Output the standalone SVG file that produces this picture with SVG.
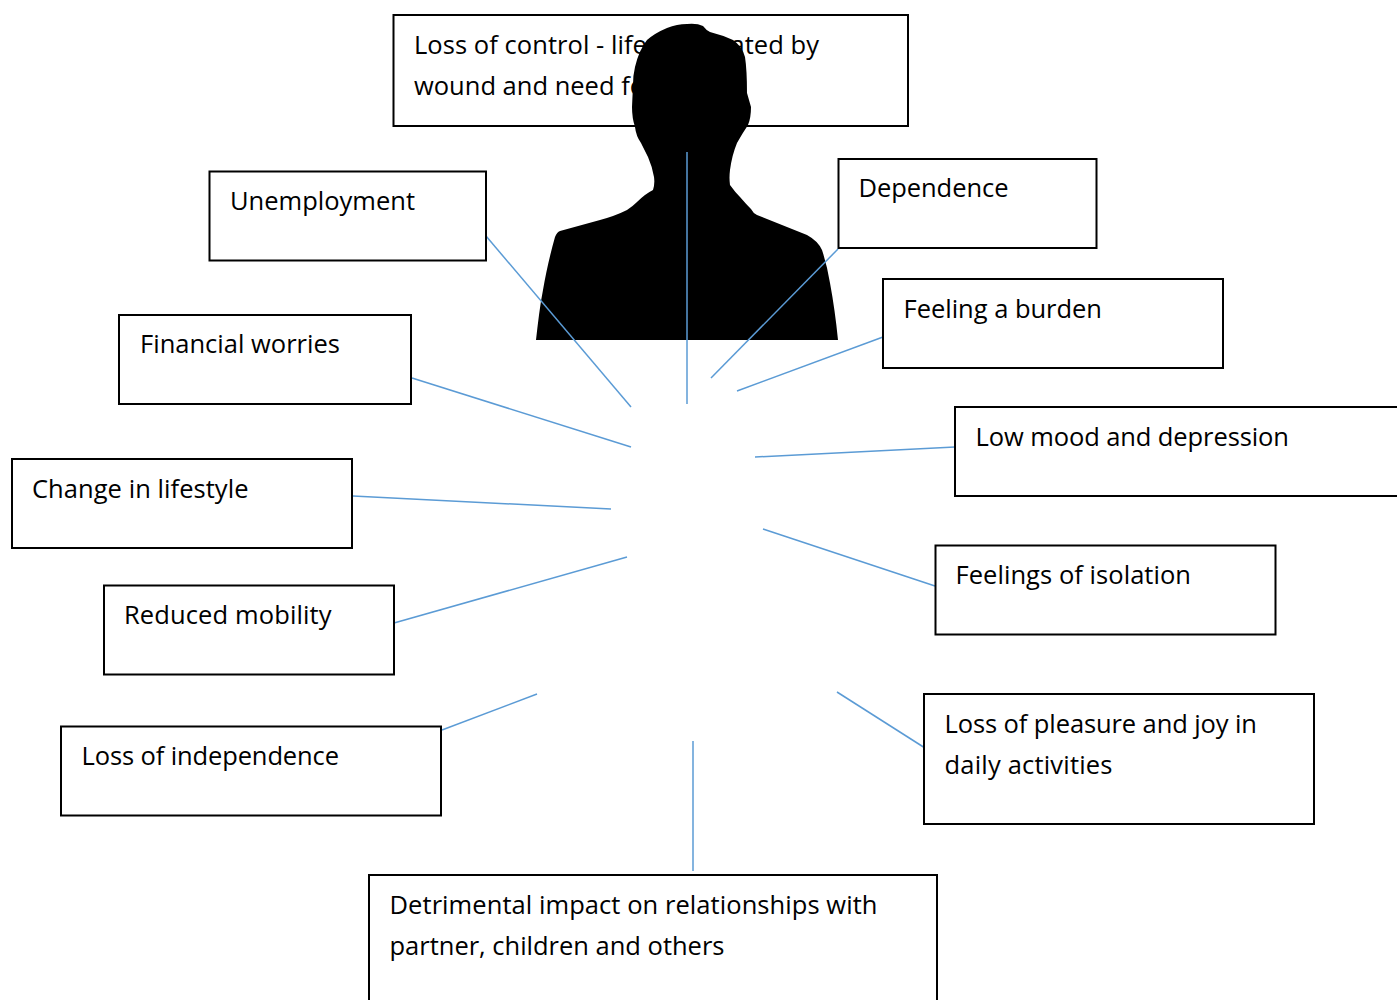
<svg xmlns="http://www.w3.org/2000/svg" width="1397" height="1000" viewBox="0 0 1397 1000">
<style>
.b{fill:#fff;stroke:#000;stroke-width:2}
.t{font-family:"Open Sans","Noto Sans",sans-serif;font-size:25.5px;fill:#000}
.c{stroke:#5b9bd5;stroke-width:1.5;fill:none}
</style>
<rect width="1397" height="1000" fill="#fff"/>
<g id="n-control"><rect class="b" x="393.500" y="15" width="514.500" height="111"/><text class="t" x="414" y="54" textLength="405">Loss of control - life dominated by</text><text class="t" x="414" y="95">wound and need for care</text></g>
<g id="person"><path d="M536 340C538 322 540 305 543 290C546 272 550 255 555 237Q557 232 560 231L600 220Q615 216 627 210Q633 206 637 202Q645 194 653 190Q655 184 654 177Q652 166 648 157L641 143Q636 136 635 127Q632 118 632 107L633 85Q633 75 635 67Q639 50 647 40Q655 33 667 28Q677 24 687 24Q697 23 703 26Q706 30 710 32Q722 35 733 40Q742 46 745 57Q747 70 747 93Q749 100 751 107Q751 118 748 125Q742 134 737 143Q732 155 730 170Q729 178 730 185Q735 192 740 197Q746 204 751 209Q753 213 757 215L807 235Q818 241 822 250Q827 265 830 283Q835 310 838 340Z" fill="#000"/></g>
<g id="connectors">
<path class="c" d="M486 236L631 407"/><path class="c" d="M412 378L631 447"/><path class="c" d="M353 496L611 509"/><path class="c" d="M394 623L627 557"/><path class="c" d="M442 730L537 694"/><path class="c" d="M693 871V741"/><path class="c" d="M925 748L837 692"/><path class="c" d="M935 586L763 529"/><path class="c" d="M955 447L755 457"/><path class="c" d="M883 337L737 391"/><path class="c" d="M838 249L711 378"/><path class="c" d="M687 152V404"/>
</g>
<g id="n-unemployment"><rect class="b" x="209.500" y="171.500" width="276.500" height="89"/><text class="t" x="230" y="210" textLength="185">Unemployment</text></g>
<g id="n-financial"><rect class="b" x="119" y="315" width="292" height="89"/><text class="t" x="140" y="353" textLength="200">Financial worries</text></g>
<g id="n-lifestyle"><rect class="b" x="12" y="459" width="340" height="89"/><text class="t" x="32" y="498" textLength="216.500">Change in lifestyle</text></g>
<g id="n-mobility"><rect class="b" x="104" y="585.500" width="290" height="89"/><text class="t" x="124" y="624" textLength="207.500">Reduced mobility</text></g>
<g id="n-independence"><rect class="b" x="61" y="726.500" width="380" height="89"/><text class="t" x="81.500" y="765" textLength="257.500">Loss of independence</text></g>
<g id="n-relationships"><rect class="b" x="369" y="875" width="568" height="135"/><text class="t" x="389.500" y="914" textLength="488">Detrimental impact on relationships with</text><text class="t" x="389.500" y="955" textLength="335">partner, children and others</text></g>
<g id="n-pleasure"><rect class="b" x="924" y="694" width="390" height="130"/><text class="t" x="944.500" y="733" textLength="312.500">Loss of pleasure and joy in</text><text class="t" x="944.500" y="774" textLength="168">daily activities</text></g>
<g id="n-isolation"><rect class="b" x="935.500" y="545.500" width="340" height="89"/><text class="t" x="955.500" y="584" textLength="235.500">Feelings of isolation</text></g>
<g id="n-mood"><rect class="b" x="955" y="407" width="450" height="89"/><text class="t" x="975.500" y="446" textLength="313.500">Low mood and depression</text></g>
<g id="n-burden"><rect class="b" x="883" y="279" width="340" height="89"/><text class="t" x="903.500" y="318" textLength="198.500">Feeling a burden</text></g>
<g id="n-dependence"><rect class="b" x="838.500" y="159" width="258" height="89"/><text class="t" x="858.500" y="197" textLength="150">Dependence</text></g>
</svg>
